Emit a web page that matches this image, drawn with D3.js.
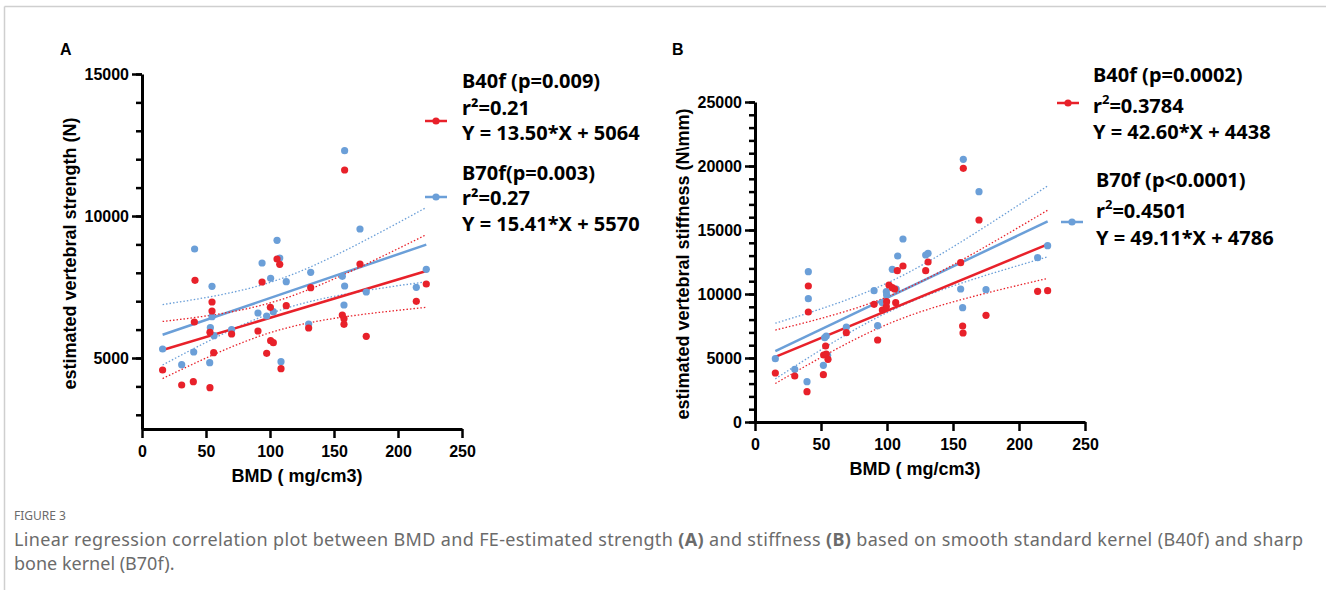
<!DOCTYPE html>
<html lang="en">
<head>
<meta charset="utf-8">
<title>Figure 3</title>
<script src="https://cdn.jsdelivr.net/npm/d3@7"></script>
<style>
body { margin: 0; background: #fff; }
text { font-family: "Liberation Sans", Arial, sans-serif; }
.legend text { font-family: "Noto Sans", "Liberation Sans", sans-serif; font-weight: bold; font-size: 20px; }
.caption { font-family: "Noto Sans", sans-serif; fill: #6b6b6b; }
</style>
</head>
<body>
<script>
var w = 1326, h = 597;
var red = "#e8212a", blue = "#6b9fd8";

// panel A: strength vs BMD
var strengthRedX = [16.1, 31, 40.1, 40.9, 41.4, 53.1, 53.1, 54.7, 54.7, 56, 70, 90.6, 93.8, 97.4, 100.3, 100.5, 102.6, 105.5, 107.6, 108.6, 112.7, 130.2, 131.8, 156.5, 157.8, 157.8, 158.3, 170.3, 175.2, 214.3, 222.1];
var strengthRedY = [4577, 4049, 4166, 6268, 7736, 3955, 5905, 6972, 6655, 5187, 5845, 5951, 7676, 5165, 6785, 5610, 5539, 8486, 8300, 4624, 6842, 6056, 7476, 6514, 6384, 6186, 11620, 8310, 5764, 6996, 7606];
var strengthBlueX = [16.1, 31, 40.4, 41.1, 52.9, 53.4, 54.7, 54.7, 56.3, 70, 90.6, 93.8, 97.4, 100.5, 102.6, 105.5, 107.6, 108.6, 112.7, 130.2, 131.8, 156.5, 157.8, 158.3, 158.3, 170.3, 175.2, 214.3, 222.1];
var strengthBlueY = [5317, 4765, 5211, 8838, 4835, 6067, 7524, 6454, 5785, 5997, 6585, 8345, 6479, 7806, 6631, 9144, 8521, 4870, 7687, 6197, 8018, 7877, 6866, 7535, 12300, 9542, 7324, 7489, 8123];

// panel B: stiffness vs BMD
var stiffnessRedX = [15.4, 30.1, 39.4, 40.4, 40.4, 51.8, 52, 53.5, 54, 55.3, 69.2, 90.2, 92.9, 96.5, 99.5, 99.7, 101.5, 104, 105.8, 106.6, 107.8, 112.1, 129.3, 131.1, 155.8, 157.3, 157.6, 157.8, 169.7, 175, 214.1, 221.7];
var stiffnessRedY = [3828, 3594, 2370, 10625, 8594, 3698, 5234, 5938, 5313, 4896, 6979, 9193, 6406, 8750, 9010, 9401, 10703, 10495, 10391, 9323, 11823, 12188, 11823, 12500, 12448, 7500, 6953, 19818, 15781, 8333, 10208, 10260];
var stiffnessBlueX = [15.4, 30.1, 39.4, 40.4, 40.4, 51.8, 52.8, 54, 55, 69.2, 90.2, 92.9, 96.5, 99.5, 99.7, 104, 107, 108.1, 112.1, 129.3, 131.1, 155.8, 157.3, 157.8, 169.7, 175, 214.1, 221.7];
var stiffnessBlueY = [4948, 4115, 3151, 11745, 9635, 4427, 6589, 6719, 5208, 7422, 10260, 7526, 9323, 10182, 9922, 11927, 10391, 12969, 14297, 13047, 13177, 10391, 8932, 20521, 17995, 10339, 12839, 13776];

// fitted lines from the legends: [slope, intercept]
var strengthRedFit = [13.50, 5064], strengthBlueFit = [15.41, 5570];
var stiffnessRedFit = [42.60, 4438], stiffnessBlueFit = [49.11, 4786];

var xTicks = [0, 50, 100, 150, 200, 250];
var strengthTicks = [5000, 10000, 15000];
var stiffnessTicks = [0, 5000, 10000, 15000, 20000, 25000];

var svg = d3.select("body").append("svg").attr("width", w).attr("height", h);

// frame lines
svg.append("line").attr("x1", 4.5).attr("x2", w).attr("y1", 6.5).attr("y2", 6.5).attr("stroke", "#cfcfcf").attr("stroke-width", 1.5);
svg.append("line").attr("x1", 4.5).attr("x2", 4.5).attr("y1", 6.5).attr("y2", 590).attr("stroke", "#cfcfcf").attr("stroke-width", 1.5);

function confBand(xs, ys, fit, x) {
	var n = xs.length;
	var mx = d3.mean(xs);
	var sxx = d3.sum(xs, function(d) { return (d - mx) * (d - mx); });
	var sse = d3.sum(xs, function(d, i) { var r = ys[i] - (fit[0] * d + fit[1]); return r * r; });
	var s = Math.sqrt(sse / (n - 2));
	return 2.045 * s * Math.sqrt(1 / n + (x - mx) * (x - mx) / sxx);
}

function drawPanel(p) {
	var g = svg.append("g");
	var x = d3.scaleLinear().domain([0, 250]).range(p.xRange);
	var y = d3.scaleLinear().domain(p.yDomain).range(p.yRange);

	g.append("text").attr("x", p.letterX).attr("y", 55)
		.attr("font-weight", "bold").attr("font-size", "16px").text(p.letter);

	// minor y ticks
	var minor = d3.range(p.yDomain[0] === 0 ? 0 : 3000, p.yDomain[1] + 1, 1000);
	g.append("g").attr("transform", "translate(" + p.xRange[0] + ",0)")
		.call(d3.axisLeft(y).tickValues(minor).tickSize(6).tickFormat("").tickSizeOuter(0))
		.call(function(a) { a.select(".domain").remove(); a.selectAll("line").attr("stroke-width", 2.5); });

	var ya = g.append("g").attr("transform", "translate(" + p.xRange[0] + ",0)")
		.call(d3.axisLeft(y).tickValues(p.yTicks).tickSize(10).tickPadding(3).tickSizeOuter(0).tickFormat(d3.format("d")));
	ya.select(".domain").attr("stroke-width", 3);
	ya.selectAll("line").attr("stroke-width", 2.5);
	ya.selectAll("text").attr("font-size", "16px").attr("font-weight", "bold").attr("font-family", "Liberation Sans, Arial, sans-serif");

	var xa = g.append("g").attr("transform", "translate(0," + p.yRange[0] + ")")
		.call(d3.axisBottom(x).tickValues(xTicks).tickSize(9).tickPadding(8).tickSizeOuter(0));
	xa.select(".domain").attr("stroke-width", 3);
	xa.selectAll("line").attr("stroke-width", 2.5);
	xa.selectAll("text").attr("font-size", "16px").attr("font-weight", "bold").attr("font-family", "Liberation Sans, Arial, sans-serif");

	g.append("text").attr("x", (p.xRange[0] + p.xRange[1]) / 2 - 5).attr("y", p.yRange[0] + 53)
		.attr("text-anchor", "middle").attr("font-weight", "bold").attr("font-size", "18px")
		.text("BMD ( mg/cm3)");
	g.append("text").attr("transform", "translate(" + (p.xRange[0] - 66) + "," + ((p.yRange[0] + p.yRange[1]) / 2 + 2) + ") rotate(-90)")
		.attr("text-anchor", "middle").attr("font-weight", "bold").attr("font-size", "18px")
		.text(p.yLabel);

	p.series.forEach(function(s) {
		var x0 = d3.min(s.xs), x1 = d3.max(s.xs);
		var pts = d3.range(0, 41).map(function(i) { return x0 + (x1 - x0) * i / 40; });
		[1, -1].forEach(function(sign) {
			g.append("path")
				.datum(pts)
				.attr("fill", "none").attr("stroke", s.color).attr("stroke-width", 1.3)
				.attr("stroke-dasharray", "1.5,2")
				.attr("d", d3.line()
					.x(function(d) { return x(d); })
					.y(function(d) { return y(s.fit[0] * d + s.fit[1] + sign * confBand(s.xs, s.ys, s.fit, d)); }));
		});
		g.append("line")
			.attr("x1", x(x0)).attr("x2", x(x1))
			.attr("y1", y(s.fit[0] * x0 + s.fit[1])).attr("y2", y(s.fit[0] * x1 + s.fit[1]))
			.attr("stroke", s.color).attr("stroke-width", 2.5);
	});

	p.series.forEach(function(s) {
		g.append("g").selectAll("circle")
			.data(s.xs)
			.enter()
			.append("circle")
			.attr("cx", function(d) { return x(d); })
			.attr("cy", function(d, i) { return y(s.ys[i]); })
			.attr("r", 3.6)
			.attr("fill", s.color);
	});

	// legend
	var lg = g.append("g").attr("class", "legend");
	p.series.forEach(function(s) {
		lg.append("line").attr("x1", s.mark[0]).attr("x2", s.mark[0] + 22).attr("y1", s.mark[1]).attr("y2", s.mark[1])
			.attr("stroke", s.color).attr("stroke-width", 2.5);
		lg.append("circle").attr("cx", s.mark[0] + 11).attr("cy", s.mark[1]).attr("r", 3.6).attr("fill", s.color);
		s.lines.forEach(function(t, i) {
			var txt = lg.append("text").attr("x", s.textX).attr("y", s.baselines[i]);
			if (typeof t === "object") {
				txt.append("tspan").text("r");
				txt.append("tspan").attr("font-size", "13px").attr("dy", -9).text("2");
				txt.append("tspan").attr("dy", 9).text(t.rest);
			} else {
				txt.text(t);
			}
		});
	});
}

drawPanel({
	letter: "A", letterX: 60,
	xRange: [142, 462], yRange: [429, 74], yDomain: [2500, 15000], yTicks: strengthTicks,
	yLabel: "estimated vertebral strength (N)",
	series: [
		{ xs: strengthBlueX, ys: strengthBlueY, fit: strengthBlueFit, color: blue, mark: [425, 197], textX: 462,
		  baselines: [180, 205, 231], lines: ["B70f(p=0.003)", "r²=0.27", "Y = 15.41*X + 5570"] },
		{ xs: strengthRedX, ys: strengthRedY, fit: strengthRedFit, color: red, mark: [425, 121], textX: 462,
		  baselines: [88, 115, 140], lines: ["B40f (p=0.009)", "r²=0.21", "Y = 13.50*X + 5064"] }
	]
});

drawPanel({
	letter: "B", letterX: 672,
	xRange: [755, 1085], yRange: [422, 102], yDomain: [0, 25000], yTicks: stiffnessTicks,
	yLabel: "estimated vertebral stiffness (N\\mm)",
	series: [
		{ xs: stiffnessBlueX, ys: stiffnessBlueY, fit: stiffnessBlueFit, color: blue, mark: [1061, 222], textX: 1096,
		  baselines: [187, 218, 245], lines: ["B70f (p<0.0001)", { rest: "=0.4501" }, "Y = 49.11*X + 4786"] },
		{ xs: stiffnessRedX, ys: stiffnessRedY, fit: stiffnessRedFit, color: red, mark: [1057, 103], textX: 1093,
		  baselines: [82, 113, 139], lines: ["B40f (p=0.0002)", { rest: "=0.3784" }, "Y = 42.60*X + 4438"] }
	]
});

// caption
svg.append("text").attr("class", "caption").attr("x", 14).attr("y", 520).attr("font-size", "12px").text("FIGURE 3");
var c1 = svg.append("text").attr("class", "caption").attr("x", 14).attr("y", 546).attr("font-size", "18px")
	.attr("textLength", 1289).attr("lengthAdjust", "spacing");
c1.append("tspan").text("Linear regression correlation plot between BMD and FE-estimated strength ");
c1.append("tspan").attr("font-weight", "bold").text("(A)");
c1.append("tspan").text(" and stiffness ");
c1.append("tspan").attr("font-weight", "bold").text("(B)");
c1.append("tspan").text(" based on smooth standard kernel (B40f) and sharp");
svg.append("text").attr("class", "caption").attr("x", 14).attr("y", 570).attr("font-size", "18px")
	.text("bone kernel (B70f).");
</script>
</body>
</html>
